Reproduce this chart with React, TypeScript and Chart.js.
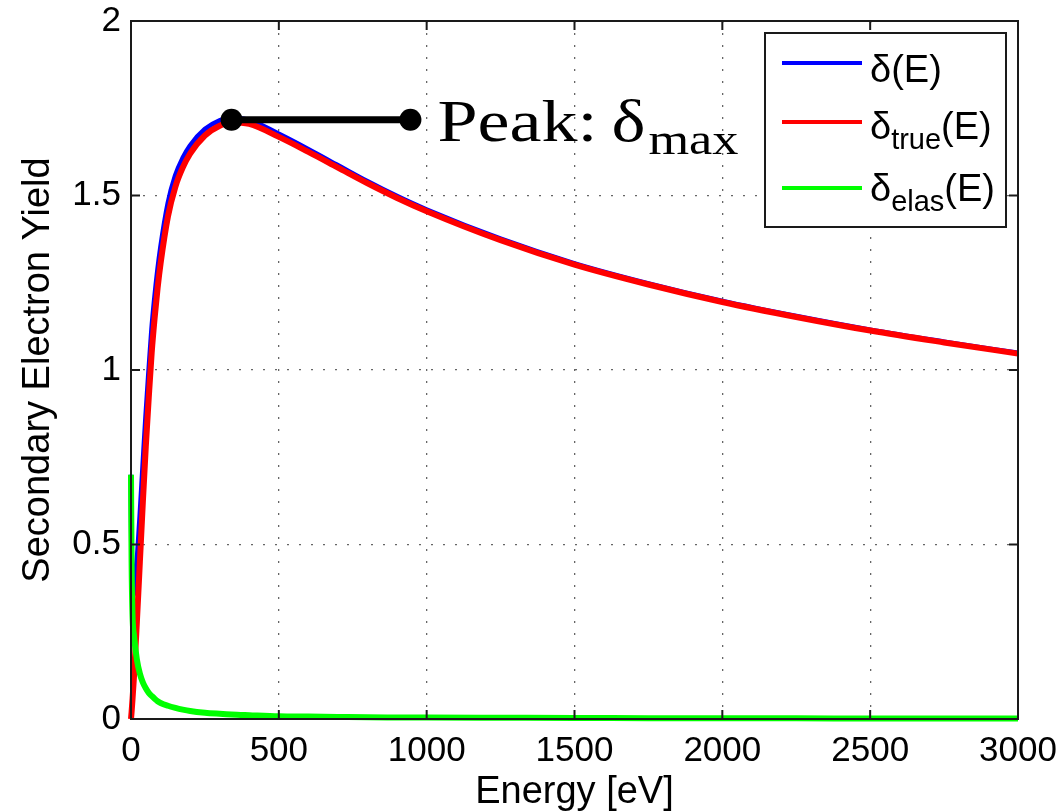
import React, { useEffect, useRef } from "react";
import { Chart, registerables } from "chart.js";

Chart.register(...registerables);

// ---------- data ----------
const energy = [0, 2, 5, 10, 20, 30, 40, 50, 60, 70, 80, 90, 100, 125, 150, 175, 200, 250, 300, 340, 400, 500, 600, 700, 800, 900, 1000, 1250, 1500, 1750, 2000, 2250, 2500, 2750, 3000];

const deltaTrue = [0, 0.02, 0.055, 0.12, 0.28, 0.45, 0.62, 0.78, 0.92, 1.05, 1.15, 1.235, 1.305, 1.44, 1.525, 1.58, 1.62, 1.672, 1.7, 1.71, 1.705, 1.668, 1.625, 1.58, 1.535, 1.493, 1.455, 1.372, 1.302, 1.245, 1.195, 1.152, 1.113, 1.079, 1.047];

const deltaElas = [0.7, 0.45, 0.3, 0.24, 0.17, 0.13, 0.105, 0.088, 0.075, 0.066, 0.058, 0.051, 0.046, 0.038, 0.032, 0.027, 0.023, 0.018, 0.015, 0.013, 0.011, 0.008, 0.007, 0.006, 0.005, 0.0045, 0.004, 0.0035, 0.003, 0.0025, 0.002, 0.0018, 0.0017, 0.0016, 0.0015];

const deltaTotal = [0.7, 0.47, 0.355, 0.36, 0.45, 0.58, 0.725, 0.868, 0.995, 1.116, 1.208, 1.286, 1.351, 1.478, 1.557, 1.607, 1.643, 1.69, 1.715, 1.723, 1.716, 1.676, 1.632, 1.586, 1.54, 1.4975, 1.459, 1.3755, 1.305, 1.2475, 1.197, 1.1538, 1.1147, 1.0806, 1.0485];

const peakEnergy = [340, 945];
const peakYield = [1.717, 1.717];

const xTicks = [0, 500, 1000, 1500, 2000, 2500, 3000];
const xTickLabels = ["0", "500", "1000", "1500", "2000", "2500", "3000"];
const yTicks = [0, 0.5, 1, 1.5, 2];
const yTickLabels = ["0", "0.5", "1", "1.5", "2"];

const seriesColors = ["#0000ff", "#ff0000", "#00ff00"];
const legendMain = ["δ", "δ", "δ"];
const legendSub = ["", "true", "elas"];
const legendTail = ["(E)", "(E)", "(E)"];

const xTitle = "Energy [eV]";
const yTitle = "Secondary Electron Yield";
const peakText = "Peak:";
const peakSymbol = "δ";
const peakSub = "max";

const SANS = '"Liberation Sans", Arial, Helvetica, sans-serif';
const SERIF = '"Liberation Serif", "Times New Roman", serif';

function drawScaled(ctx: CanvasRenderingContext2D, text: string, x: number, y: number, targetW: number) {
  const w = ctx.measureText(text).width;
  const sx = w > 0 ? targetW / w : 1;
  ctx.save();
  ctx.translate(x, y);
  ctx.scale(sx, 1);
  ctx.fillText(text, 0, 0);
  ctx.restore();
}

const decorPlugin = {
  id: "decor",
  afterDraw(chart: any) {
    const { ctx, chartArea: a, scales } = chart;
    const xs = scales.x;
    const ys = scales.y;
    ctx.save();

    // axes box
    ctx.strokeStyle = "#1a1a1a";
    ctx.lineWidth = 2;
    ctx.setLineDash([]);
    ctx.strokeRect(a.left, a.top, a.right - a.left, a.bottom - a.top);

    // inward tick marks on all four sides
    const tl = 9;
    ctx.beginPath();
    xTicks.forEach((v) => {
      const px = xs.getPixelForValue(v);
      ctx.moveTo(px, a.bottom);
      ctx.lineTo(px, a.bottom - tl);
      ctx.moveTo(px, a.top);
      ctx.lineTo(px, a.top + tl);
    });
    yTicks.forEach((v) => {
      const py = ys.getPixelForValue(v);
      ctx.moveTo(a.left, py);
      ctx.lineTo(a.left + tl, py);
      ctx.moveTo(a.right, py);
      ctx.lineTo(a.right - tl, py);
    });
    ctx.stroke();

    // legend
    const bw = 241;
    const bh = 194;
    const bx = a.right - 12 - bw;
    const by = a.top + 12;
    ctx.fillStyle = "#ffffff";
    ctx.fillRect(bx, by, bw, bh);
    ctx.strokeStyle = "#1a1a1a";
    ctx.lineWidth = 2;
    ctx.strokeRect(bx, by, bw, bh);

    const lineYs = [30, 89, 155];
    const baseYs = [49, 106, 168];
    for (let i = 0; i < 3; i++) {
      ctx.strokeStyle = seriesColors[i];
      ctx.lineWidth = 4;
      ctx.beginPath();
      ctx.moveTo(bx + 17, by + lineYs[i]);
      ctx.lineTo(bx + 97, by + lineYs[i]);
      ctx.stroke();

      ctx.fillStyle = "#000";
      ctx.textBaseline = "alphabetic";
      ctx.textAlign = "left";
      let tx = bx + 105;
      ctx.font = `38px ${SANS}`;
      ctx.fillText(legendMain[i], tx, by + baseYs[i]);
      tx += ctx.measureText(legendMain[i]).width;
      if (legendSub[i]) {
        ctx.font = `29px ${SANS}`;
        ctx.fillText(legendSub[i], tx, by + baseYs[i] + 10);
        tx += ctx.measureText(legendSub[i]).width;
      }
      ctx.font = `38px ${SANS}`;
      ctx.fillText(legendTail[i], tx, by + baseYs[i]);
    }

    // peak annotation text
    const px = xs.getPixelForValue(peakEnergy[1]);
    const py = ys.getPixelForValue(peakYield[1]);
    ctx.fillStyle = "#000";
    ctx.textBaseline = "alphabetic";
    ctx.textAlign = "left";
    ctx.font = `60px ${SERIF}`;
    drawScaled(ctx, peakText, px + 27, py + 21, 160);
    drawScaled(ctx, peakSymbol, px + 201, py + 21, 34);
    ctx.font = `44px ${SERIF}`;
    drawScaled(ctx, peakSub, px + 238, py + 34, 90);

    ctx.restore();
  },
};

const zeroPadding = (s: any) => {
  s.paddingTop = 0;
  s.paddingBottom = 0;
  s.paddingLeft = 0;
  s.paddingRight = 0;
};

export default function App() {
  const canvasRef = useRef<HTMLCanvasElement | null>(null);

  useEffect(() => {
    const canvas = canvasRef.current;
    if (!canvas) return;

    const toXY = (ys: number[]) => energy.map((e, i) => ({ x: e, y: ys[i] }));

    const lineCommon = {
      pointRadius: 0,
      pointHoverRadius: 0,
      fill: false,
      cubicInterpolationMode: "monotone" as const,
      clip: false as any,
    };

    const chart = new Chart(canvas, {
      type: "line",
      data: {
        datasets: [
          {
            label: "peak",
            data: peakEnergy.map((e, i) => ({ x: e, y: peakYield[i] })),
            borderColor: "#000",
            backgroundColor: "#000",
            borderWidth: 7,
            pointRadius: 11,
            pointBorderWidth: 0,
            pointBackgroundColor: "#000",
            order: 0,
            clip: false as any,
          },
          { label: "elas", data: toXY(deltaElas), borderColor: seriesColors[2], borderWidth: 6, order: 1, ...lineCommon },
          { label: "true", data: toXY(deltaTrue), borderColor: seriesColors[1], borderWidth: 6, order: 2, ...lineCommon },
          { label: "total", data: toXY(deltaTotal), borderColor: seriesColors[0], borderWidth: 5, order: 3, ...lineCommon },
        ],
      },
      options: {
        responsive: false,
        animation: false,
        devicePixelRatio: 1,
        parsing: false as any,
        layout: { padding: { left: 0, top: 21, right: 46, bottom: 0 } },
        plugins: {
          legend: { display: false },
          tooltip: { enabled: false },
        },
        scales: {
          x: {
            type: "linear",
            min: 0,
            max: 3000,
            afterBuildTicks: (s: any) => {
              s.ticks = xTicks.map((v) => ({ value: v }));
            },
            afterFit: (s: any) => {
              s.height = 93;
              zeroPadding(s);
            },
            ticks: {
              color: "#000",
              font: { family: SANS, size: 35 },
              padding: 11,
              maxRotation: 0,
              autoSkip: false,
              callback: (v: any) => {
                const i = xTicks.indexOf(Number(v));
                return i >= 0 ? xTickLabels[i] : "";
              },
            },
            grid: { color: "#666", lineWidth: 1.3, drawTicks: false },
            border: { display: false, dash: [2, 10] },
            title: {
              display: true,
              text: xTitle,
              color: "#000",
              font: { family: SANS, size: 38 },
              padding: { top: 0, bottom: -3 },
            },
          },
          y: {
            type: "linear",
            min: 0,
            max: 2,
            afterBuildTicks: (s: any) => {
              s.ticks = yTicks.map((v) => ({ value: v }));
            },
            afterFit: (s: any) => {
              s.width = 131;
              zeroPadding(s);
            },
            ticks: {
              color: "#000",
              font: { family: SANS, size: 35 },
              padding: 10,
              autoSkip: false,
              callback: (v: any) => {
                const i = yTicks.indexOf(Number(v));
                return i >= 0 ? yTickLabels[i] : "";
              },
            },
            grid: { color: "#666", lineWidth: 1.3, drawTicks: false },
            border: { display: false, dash: [2, 10] },
            title: {
              display: true,
              text: yTitle,
              color: "#000",
              font: { family: SANS, size: 38 },
              padding: { top: 16, bottom: 0 },
            },
          },
        },
      },
      plugins: [decorPlugin],
    });

    return () => chart.destroy();
  }, []);

  return (
    <div style={{ position: "absolute", left: 0, top: 0, width: 1064, height: 812, background: "#fff" }}>
      <canvas ref={canvasRef} width={1064} height={812} style={{ display: "block" }} />
    </div>
  );
}
